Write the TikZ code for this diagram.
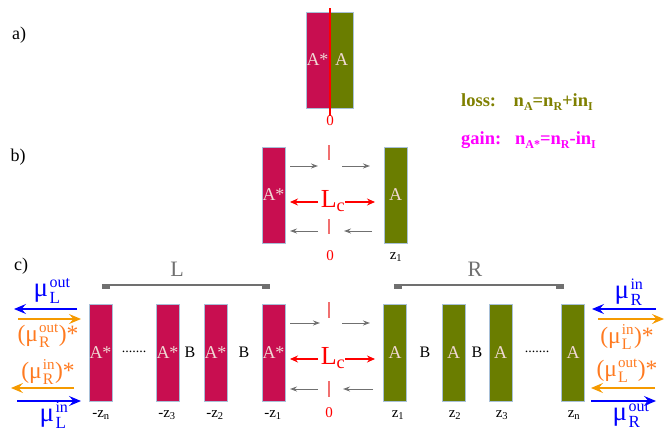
\documentclass[tikz,border=0pt]{standalone}
\usepackage{fontspec}
\usepackage{amsmath}
\setmainfont{Liberation Serif}
\usetikzlibrary{arrows.meta}
\definecolor{crim}{HTML}{C80E50}
\definecolor{olv}{HTML}{6A7D00}
\definecolor{barline}{HTML}{A8C0D8}
\definecolor{bartxt}{HTML}{F0D8D4}
\definecolor{lossc}{HTML}{7F8000}
\definecolor{gainc}{HTML}{FF00FF}
\definecolor{orarrow}{HTML}{F59A00}
\definecolor{ortxt}{HTML}{FF7A20}
\definecolor{gry}{HTML}{707070}
\definecolor{tick}{HTML}{F07070}
\newcommand{\fs}[1]{\fontsize{#1}{#1}\selectfont}
\newcommand{\mulab}[2]{$\text{μ\kern1.5pt}^{\text{\fs{16}#1}}_{\text{\fs{17}#2}}$}
\newcommand{\mulabo}[2]{$\text{μ\kern1pt}^{\text{\fs{15}#1}}_{\text{\fs{16}#2}}$}
\newcommand{\sbs}[1]{\raisebox{-0.25em}{\fs{12}#1}}
\begin{document}
\begin{tikzpicture}[x=1pt,y=-1pt,
  bar/.style={minimum width=23pt,minimum height=96pt,draw=barline,line width=0.4pt,inner sep=0pt,text=bartxt,font=\fs{18}},
  starbar/.style={bar,fill=crim},
  abar/.style={bar,fill=olv},
  cbar/.style={minimum height=97pt},
  lbl/.style={font=\fs{18},inner sep=0pt},
  zl/.style={font=\fs{15},inner sep=0pt},
  bl/.style={font=\fs{16},inner sep=0pt},
  garrow/.style={draw=gry,line width=1pt,-{Stealth[length=7pt,width=5pt]}},
  rarrow/.style={draw=red,line width=1.1pt,-{Stealth[length=8pt,width=7pt]}},
  tk/.style={draw=tick,line width=1.2pt},
  barr/.style={draw=blue,line width=1.1pt,-{Stealth[length=12pt,width=10pt,inset=4.5pt]}},
  oarr/.style={draw=orarrow,line width=1.1pt,-{Stealth[length=12pt,width=10pt,inset=4.5pt]}},
  blab/.style={text=blue,font=\fs{27},inner sep=0pt},
  olab/.style={text=ortxt,font=\fs{23.5},inner sep=0pt},
  brk/.style={draw=gry,line width=1.3pt},
  endcap/.style={fill=gry,minimum width=8pt,minimum height=3.5pt,inner sep=0pt},
]
\useasboundingbox (0,0) rectangle (667,431);

% ---------------- panel a
\node[lbl] (la) at (19,35) {a)};
\node[starbar] (a1) at (317.5,60) {A*};
\node[abar] (a2) at (341.5,60) {A};
\node[red,zl] (a0) at (330,121) {0};
\coordinate (a0t) at (330,8);
\draw[red,line width=1.3pt] (a0t) -- (a0.north);

% loss / gain
\node[text=lossc,font=\bfseries\fs{18.5},anchor=west,inner sep=0pt] (loss) at (461,102)
  {loss:\hspace{0.95em}n\sbs{A}=n\sbs{R}+in\sbs{I}};
\node[text=gainc,font=\bfseries\fs{18.5},anchor=west,inner sep=0pt] (gain) at (461,140)
  {gain:\hspace{0.75em}n\sbs{A*}=n\sbs{R}-in\sbs{I}};

% ---------------- panel b
\node[lbl] (lb) at (18,157) {b)};
\node[starbar] (b1) at (273.5,195) {A*};
\node[abar] (b2) at (395.5,195) {A};
\coordinate (bt1) at (329,145); \coordinate (bt2) at (329,160);
\coordinate (bt3) at (329,219); \coordinate (bt4) at (329,234);
\draw[tk] (bt1) -- (bt2);
\draw[tk] (bt3) -- (bt4);
\node[text=red,font=\fs{26},inner sep=0pt] (bLc) at (333,201) {L\textsubscript{c}};
\draw[garrow] (290,166) -- (318,166);
\draw[garrow] (342,166) -- (370,166);
\draw[garrow] (318,231) -- (290,231);
\draw[garrow] (372,231) -- (344,231);
\draw[rarrow] (318,202) -- (290,202);
\draw[rarrow] (345,202) -- (375,202);
\node[red,zl] (b0) at (330,256) {0};
\node[zl] (bz) at (396,257) {z\textsubscript{1}};

% ---------------- panel c
\node[lbl] (lc) at (21,266) {c)};
\node[text=gry,font=\fs{22},inner sep=0pt] (cL) at (177,269) {L};
\node[text=gry,font=\fs{22},inner sep=0pt] (cR) at (475,269) {R};
\node[endcap] (capL1) at (106,287) {};
\node[endcap] (capL2) at (266,287) {};
\node[endcap] (capR1) at (398,287) {};
\node[endcap] (capR2) at (560,287) {};
\draw[brk] (capL1.north west) -- (capL2.north east);
\draw[brk] (capR1.north west) -- (capR2.north east);

\node[starbar,cbar] (s4) at (100.5,352.5) {A*};
\node[starbar,cbar] (s3) at (167.5,352.5) {A*};
\node[starbar,cbar] (s2) at (215.5,352.5) {A*};
\node[starbar,cbar] (s1) at (273.5,352.5) {A*};
\node[abar,cbar] (g1) at (395,352.5) {A};
\node[abar,cbar] (g2) at (453.5,352.5) {A};
\node[abar,cbar] (g3) at (500.5,352.5) {A};
\node[abar,cbar] (g4) at (573,352.5) {A};

\node[bl] (B1) at (190,352) {B};
\node[bl] (B2) at (244,352) {B};
\node[bl] (B3) at (425,352) {B};
\node[bl] (B4) at (477,352) {B};
\node[font=\fs{14},inner sep=0pt] (d1) at (134,352) {.......};
\node[font=\fs{14},inner sep=0pt] (d2) at (537,352) {.......};

\node[zl] (zs4) at (101,415) {-z\textsubscript{n}};
\node[zl] (zs3) at (167,415) {-z\textsubscript{3}};
\node[zl] (zs2) at (215,415) {-z\textsubscript{2}};
\node[zl] (zs1) at (273,415) {-z\textsubscript{1}};
\node[zl] (zg1) at (398,415) {z\textsubscript{1}};
\node[zl] (zg2) at (455,415) {z\textsubscript{2}};
\node[zl] (zg3) at (502,415) {z\textsubscript{3}};
\node[zl] (zg4) at (574,415) {z\textsubscript{n}};

\coordinate (ct1) at (329,302); \coordinate (ct2) at (329,318);
\coordinate (ct3) at (329,381); \coordinate (ct4) at (329,397);
\draw[tk] (ct1) -- (ct2);
\draw[tk] (ct3) -- (ct4);
\node[text=red,font=\fs{26},inner sep=0pt] (cLc) at (333,358) {L\textsubscript{c}};
\node[red,zl] (c0) at (329,413) {0};
\draw[garrow] (290,323) -- (320,323);
\draw[garrow] (342,323) -- (370,323);
\draw[garrow] (318,389) -- (290,389);
\draw[garrow] (373,389) -- (343,389);
\draw[rarrow] (318,359) -- (290,359);
\draw[rarrow] (345,359) -- (375,359);

% left side flux arrows
\node[blab] (muLo) at (52,291) {\mulab{out}{L}};
\node[olab] (muRo) at (48,336) {(\mulabo{out}{R})*};
\node[olab] (muRi) at (48,372) {(\mulabo{in}{R})*};
\node[blab] (muLi) at (54,415) {\mulab{in}{L}};
\draw[barr] (77,309) -- (14,309);
\draw[oarr] (18,319) -- (81,319);
\draw[oarr] (74,388) -- (11,388);
\draw[barr] (17,401) -- (81,401);

% right side flux arrows
\node[blab] (muRi2) at (629,292) {\mulab{in}{R}};
\node[olab] (muLi2) at (627,337) {(\mulabo{in}{L})*};
\node[olab] (muLo2) at (627,371) {(\mulabo{out}{L})*};
\node[blab] (muRo2) at (631,415) {\mulab{out}{R}};
\draw[barr] (656,309) -- (592,309);
\draw[oarr] (598,319) -- (664,319);
\draw[oarr] (655,388) -- (591,388);
\draw[barr] (591,401) -- (656,401);
\end{tikzpicture}
\end{document}
